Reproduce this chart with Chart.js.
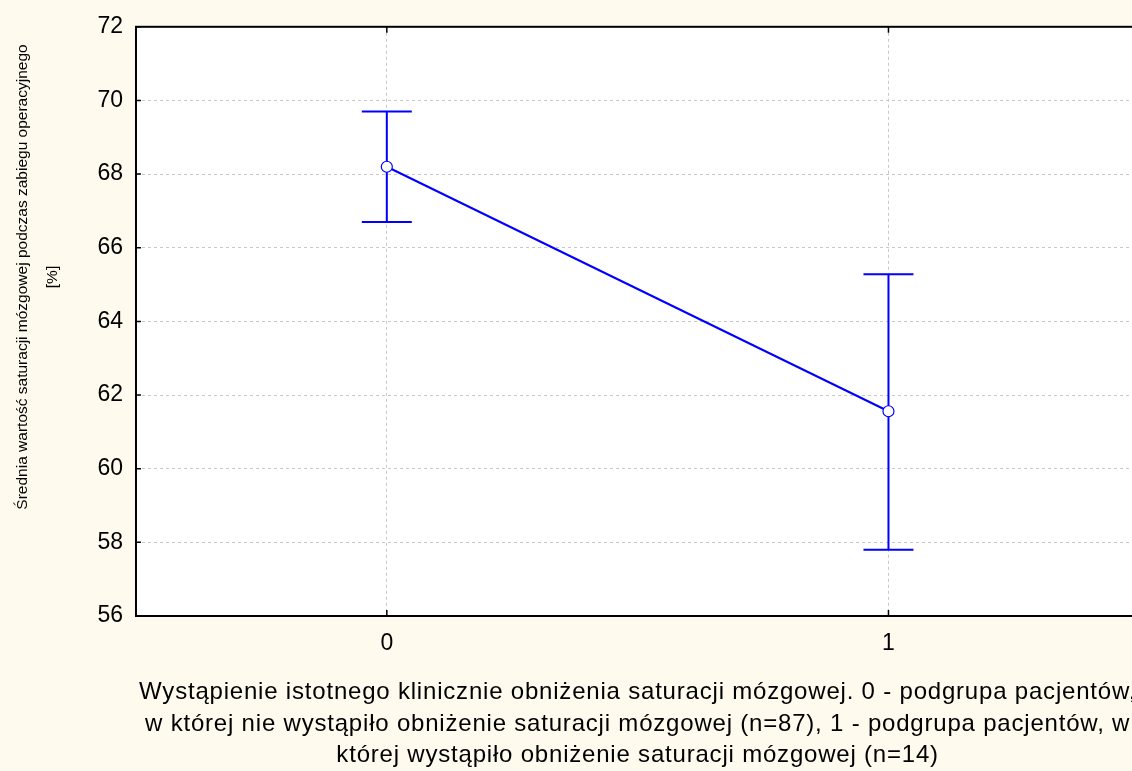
<!DOCTYPE html>
<html>
<head>
<meta charset="utf-8">
<script src="https://cdn.jsdelivr.net/npm/chart.js@4.4.1/dist/chart.umd.min.js"></script>
<style>
  html, body { margin: 0; padding: 0; overflow: hidden; background: #fffaee; }
</style>
</head>
<body>
<canvas id="wykres" width="1146" height="771"></canvas>
<script>
// grupy i wartości
const grupy = ['0', '1'];
const srednie = [68.2, 61.56];
const gorne = [69.7, 65.28];
const dolne = [66.7, 57.8];
const yTicks = [56, 58, 60, 62, 64, 66, 68, 70, 72];

const yTytul = ['Średnia wartość saturacji mózgowej podczas zabiegu operacyjnego', '[%]'];
const xTytul = [
    'Wystąpienie istotnego klinicznie obniżenia saturacji mózgowej. 0 - podgrupa pacjentów,',
    'w której nie wystąpiło obniżenie saturacji mózgowej (n=87), 1 - podgrupa pacjentów, w',
    'której wystąpiło obniżenie saturacji mózgowej (n=14)'
];

const NIEBIESKI = '#0000ff';
const FONT = 'Arial, "Liberation Sans", sans-serif';

// tło + białe pole wykresu
const tlo = {
    id: 'tlo',
    beforeDraw(chart) {
        const { ctx, chartArea: a } = chart;
        ctx.save();
        ctx.fillStyle = '#fffaee';
        ctx.fillRect(0, 0, chart.width, chart.height);
        ctx.fillStyle = '#ffffff';
        ctx.fillRect(a.left, a.top, a.right - a.left, a.bottom - a.top);
        ctx.restore();
    }
};

// słupki błędów (rysowane pod punktami)
const bledy = {
    id: 'bledy',
    beforeDatasetsDraw(chart) {
        const { ctx, scales: { x, y } } = chart;
        ctx.save();
        ctx.strokeStyle = NIEBIESKI;
        ctx.lineWidth = 2;
        for (let i = 0; i < grupy.length; i++) {
            const px = x.getPixelForValue(i);
            const yg = y.getPixelForValue(gorne[i]);
            const yd = y.getPixelForValue(dolne[i]);
            ctx.beginPath();
            ctx.moveTo(px, yg); ctx.lineTo(px, yd);
            ctx.moveTo(px - 25, yg); ctx.lineTo(px + 25, yg);
            ctx.moveTo(px - 25, yd); ctx.lineTo(px + 25, yd);
            ctx.stroke();
        }
        ctx.restore();
    }
};

// ramka, wewnętrzne kreski podziałki, tytuły osi
const ramka = {
    id: 'ramka',
    afterDraw(chart) {
        const { ctx, chartArea: a, scales: { x, y } } = chart;
        ctx.save();
        ctx.strokeStyle = '#000';
        ctx.lineWidth = 1.5;
        ctx.beginPath();
        yTicks.forEach(v => {
            const py = y.getPixelForValue(v);
            ctx.moveTo(a.left, py); ctx.lineTo(a.left + 5, py);
            ctx.moveTo(a.right, py); ctx.lineTo(a.right - 5, py);
        });
        grupy.forEach((g, i) => {
            const px = x.getPixelForValue(i);
            ctx.moveTo(px, a.top); ctx.lineTo(px, a.top + 6);
            ctx.moveTo(px, a.bottom); ctx.lineTo(px, a.bottom - 6);
        });
        ctx.stroke();
        ctx.lineWidth = 2;
        ctx.strokeRect(a.left, a.top, a.right - a.left, a.bottom - a.top);

        // tytuł osi X
        ctx.fillStyle = '#000';
        ctx.font = '24px ' + FONT;
        ctx.letterSpacing = '0.8px';
        ctx.textAlign = 'center';
        ctx.textBaseline = 'alphabetic';
        const cx = (a.left + a.right) / 2;
        xTytul.forEach((t, i) => ctx.fillText(t, cx, a.bottom + 83 + i * 31.5));

        // tytuł osi Y
        ctx.font = '15.5px ' + FONT;
        ctx.letterSpacing = '0px';
        ctx.textBaseline = 'middle';
        ctx.translate(23, 277);
        ctx.rotate(-Math.PI / 2);
        ctx.fillText(yTytul[0], 0, 0);
        ctx.fillText(yTytul[1], 0, 30);
        ctx.restore();
    }
};

new Chart(document.getElementById('wykres'), {
    type: 'line',
    data: {
        labels: grupy,
        datasets: [{
            data: srednie,
            borderColor: NIEBIESKI,
            borderWidth: 2,
            pointRadius: 5.5,
            pointBorderWidth: 1.2,
            pointBackgroundColor: '#ffffff',
            pointBorderColor: NIEBIESKI,
            tension: 0
        }]
    },
    options: {
        responsive: false,
        animation: false,
        events: [],
        layout: { padding: { left: 84.4, top: 26, right: 2, bottom: 99.4 } },
        plugins: { legend: { display: false }, tooltip: { enabled: false } },
        scales: {
            x: {
                type: 'category',
                offset: true,
                grid: { offset: false, color: '#c8c8c8', drawTicks: false },
                border: { display: false, dash: [3, 3] },
                ticks: { color: '#000', font: { size: 23, family: FONT }, padding: 14, maxRotation: 0 }
            },
            y: {
                min: 56,
                max: 72,
                afterBuildTicks: s => { s.ticks = yTicks.map(v => ({ value: v })); },
                grid: { color: '#c8c8c8', drawTicks: false },
                border: { display: false, dash: [3, 3] },
                ticks: { color: '#000', font: { size: 23, family: FONT }, padding: 13 }
            }
        }
    },
    plugins: [tlo, bledy, ramka]
});
</script>
</body>
</html>
